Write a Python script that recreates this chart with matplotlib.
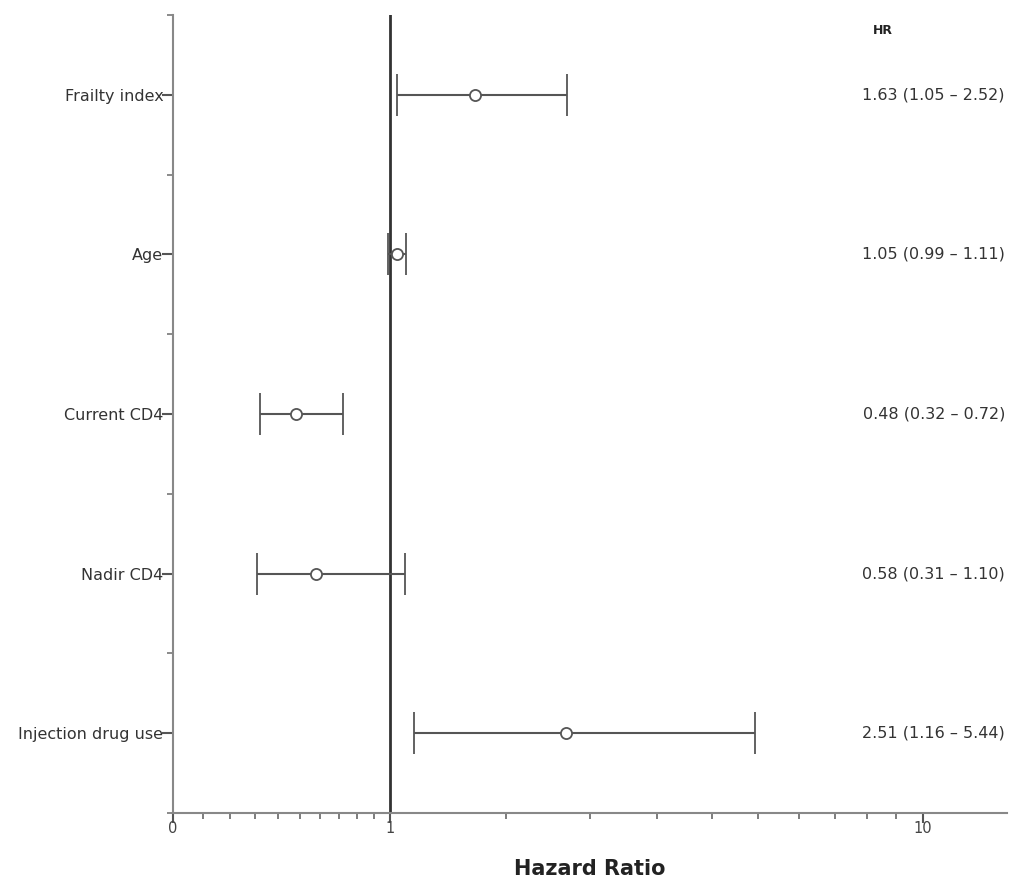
import numpy as np
import matplotlib
matplotlib.use("Agg")
import matplotlib.pyplot as plt
import matplotlib.transforms as mtransforms

# ---- data ----
labels = ["Frailty index", "Age", "Current CD4", "Nadir CD4", "Injection drug use"]
hr = [1.63, 1.05, 0.48, 0.58, 2.51]
lo = [1.05, 0.99, 0.32, 0.31, 1.16]
hi = [2.52, 1.11, 0.72, 1.10, 5.44]
hr_text = ["1.63 (1.05 \u2013 2.52)", "1.05 (0.99 \u2013 1.11)", "0.48 (0.32 \u2013 0.72)",
           "0.58 (0.31 \u2013 1.10)", "2.51 (1.16 \u2013 5.44)"]
xticks = [0, 1, 10]
xticklabels = ["0", "1", "10"]

def fwd(x):
    return np.log10(np.clip(np.asarray(x, dtype=float) + 1.0, 1e-9, None))

def inv(y):
    return 10 ** np.asarray(y, dtype=float) - 1.0

fig = plt.figure(figsize=(10.10, 8.83), dpi=100)
ax = fig.add_axes([173 / 1010, 1 - 813 / 883, (1007 - 173) / 1010, (813 - 15) / 883])
ax.set_xscale("function", functions=(fwd, inv))
ax.set_xlim(0, 13.4)
ax.set_ylim(4.5, -0.5)

ypos = np.arange(len(labels))
hr_a = np.array(hr)
lo_a = np.array(lo)
hi_a = np.array(hi)

ax.axvline(1, color="#333333", lw=2, zorder=1)
ax.errorbar(hr_a, ypos, xerr=[hr_a - lo_a, hi_a - hr_a], fmt="o", color="#555555",
            ecolor="#555555", elinewidth=1.5, capsize=15, capthick=1.8,
            mfc="white", mec="#555555", ms=8, mew=1.3, zorder=3)

# axes styling
for s in ["top", "right"]:
    ax.spines[s].set_visible(False)
for s in ["left", "bottom"]:
    ax.spines[s].set_color("#888888")
    ax.spines[s].set_linewidth(1.5)

ax.set_xticks(xticks)
ax.set_xticklabels(xticklabels)
minors = [0.1 * i for i in range(1, 10)] + [1 + 0.9 * i for i in range(1, 10)]
ax.set_xticks(minors, minor=True)
ax.set_yticks(ypos)
ax.set_yticklabels(labels)
ax.set_yticks(np.arange(-0.5, 4.6, 1.0), minor=True)

ax.tick_params(axis="x", which="major", direction="out", length=7, width=1.5,
               color="#555555", labelsize=10.5, labelcolor="#444444", pad=-1)
ax.tick_params(axis="x", which="minor", direction="out", length=4, width=1.2,
               color="#666666")
ax.tick_params(axis="y", which="major", direction="out", length=8, width=1.5,
               color="#555555", labelsize=11.5, labelcolor="#333333", pad=-1)
ax.tick_params(axis="y", which="minor", direction="out", length=4, width=1.2,
               color="#777777")

ax.set_xlabel("Hazard Ratio", fontsize=15, fontweight="bold", color="#222222", labelpad=16)

trans = mtransforms.blended_transform_factory(ax.transAxes, ax.transData)
ax.text(0.851, -0.405, "HR", transform=trans, ha="center", va="center",
        fontsize=9, fontweight="bold", color="#222222")
for y, t in zip(ypos, hr_text):
    ax.text(0.9976, y, t, transform=trans, ha="right", va="center",
            fontsize=11.5, color="#333333")

fig.savefig("out.png", dpi=100)
